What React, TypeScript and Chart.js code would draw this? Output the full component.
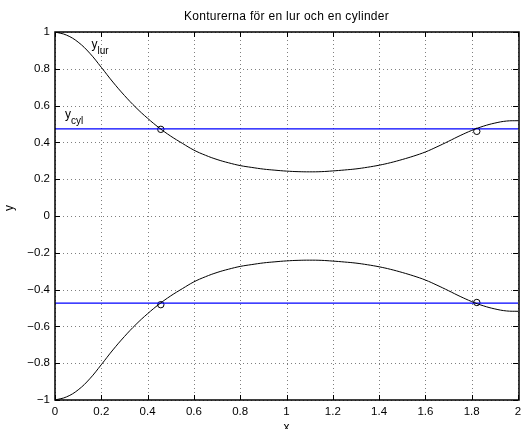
import React, { useEffect, useRef } from "react";
import { Chart, registerables } from "chart.js";

Chart.register(...registerables);

// ---- data ----
const xValues = [0, 0.05, 0.1, 0.15, 0.2, 0.25, 0.3, 0.35, 0.4, 0.45, 0.5, 0.55, 0.6, 0.65, 0.7, 0.75, 0.8, 0.85, 0.9, 0.95, 1.0, 1.05, 1.1, 1.15, 1.2, 1.25, 1.3, 1.35, 1.4, 1.45, 1.5, 1.55, 1.6, 1.65, 1.7, 1.75, 1.8, 1.85, 1.9, 1.95, 2.0];
const lurUpper = [1, 0.983, 0.945, 0.885, 0.808, 0.728, 0.655, 0.589, 0.531, 0.479, 0.434, 0.395, 0.358, 0.33, 0.307, 0.289, 0.274, 0.264, 0.255, 0.249, 0.244, 0.241, 0.24, 0.241, 0.245, 0.25, 0.256, 0.265, 0.276, 0.29, 0.307, 0.326, 0.348, 0.376, 0.406, 0.437, 0.465, 0.488, 0.505, 0.516, 0.518];
const lurLower = [-1, -0.983, -0.945, -0.885, -0.808, -0.728, -0.655, -0.589, -0.531, -0.479, -0.434, -0.395, -0.358, -0.33, -0.307, -0.289, -0.274, -0.264, -0.255, -0.249, -0.244, -0.241, -0.24, -0.241, -0.245, -0.25, -0.256, -0.265, -0.276, -0.29, -0.307, -0.326, -0.348, -0.376, -0.406, -0.437, -0.465, -0.488, -0.505, -0.516, -0.518];
const cylX = [0, 2];
const cylUpper = [0.473, 0.473];
const cylLower = [-0.473, -0.473];
const markerX = [0.457, 1.822, 0.457, 1.822];
const markerY = [0.471, 0.46, -0.482, -0.47];
const xTicks = [0, 0.2, 0.4, 0.6, 0.8, 1, 1.2, 1.4, 1.6, 1.8, 2];
const xTickLabels = ["0", "0.2", "0.4", "0.6", "0.8", "1", "1.2", "1.4", "1.6", "1.8", "2"];
const yTicks = [-1, -0.8, -0.6, -0.4, -0.2, 0, 0.2, 0.4, 0.6, 0.8, 1];
const yTickLabels = ["\u22121", "\u22120.8", "\u22120.6", "\u22120.4", "\u22120.2", "0", "0.2", "0.4", "0.6", "0.8", "1"];
const titleText = "Konturerna för en lur och en cylinder";
const xLabel = "x";
const yLabel = "y";

const FONT = '"Liberation Sans", Arial, Helvetica, sans-serif';

const matlabPlugin = {
  id: "matlabAxes",
  beforeDatasetsDraw(chart: any) {
    const { ctx, chartArea: a, scales } = chart;
    const xs = scales.x;
    const ys = scales.y;
    ctx.save();
    ctx.strokeStyle = "rgba(0,0,0,0.5)";
    ctx.lineWidth = 1;
    ctx.setLineDash([1, 3]);
    for (const v of xTicks) {
      const px = Math.round(xs.getPixelForValue(v)) + 0.5;
      ctx.beginPath();
      ctx.moveTo(px, a.top);
      ctx.lineTo(px, a.bottom);
      ctx.stroke();
    }
    for (const v of yTicks) {
      const py = Math.round(ys.getPixelForValue(v)) + 0.5;
      ctx.beginPath();
      ctx.moveTo(a.left, py);
      ctx.lineTo(a.right, py);
      ctx.stroke();
    }
    ctx.restore();
  },
  afterDraw(chart: any) {
    const { ctx, chartArea: a, scales } = chart;
    const xs = scales.x;
    const ys = scales.y;
    ctx.save();
    // frame (right edge falls just outside the canvas, as in the reference)
    ctx.setLineDash([]);
    ctx.strokeStyle = "#000";
    ctx.lineWidth = 1.5;
    ctx.beginPath();
    ctx.rect(a.left, a.top, a.right + 1 - a.left, a.bottom - a.top);
    ctx.stroke();
    // inward ticks
    ctx.lineWidth = 1;
    const tl = 5;
    for (const v of xTicks) {
      const px = Math.round(xs.getPixelForValue(v)) + 0.5;
      ctx.beginPath();
      ctx.moveTo(px, a.bottom);
      ctx.lineTo(px, a.bottom - tl);
      ctx.moveTo(px, a.top);
      ctx.lineTo(px, a.top + tl);
      ctx.stroke();
    }
    for (const v of yTicks) {
      const py = Math.round(ys.getPixelForValue(v)) + 0.5;
      ctx.beginPath();
      ctx.moveTo(a.left, py);
      ctx.lineTo(a.left + tl, py);
      ctx.moveTo(a.right, py);
      ctx.lineTo(a.right - tl, py);
      ctx.stroke();
    }
    // title
    ctx.fillStyle = "#000";
    ctx.font = `12px ${FONT}`;
    (ctx as any).letterSpacing = "0.3px";
    ctx.textAlign = "center";
    ctx.textBaseline = "alphabetic";
    const cx = (a.left + a.right) / 2;
    ctx.fillText(titleText, cx, 20);
    (ctx as any).letterSpacing = "0px";
    // x label
    ctx.font = `12px ${FONT}`;
    ctx.fillText(xLabel, cx, 431);
    // y label
    ctx.save();
    ctx.translate(13, 208);
    ctx.rotate(-Math.PI / 2);
    ctx.fillText(yLabel, 0, 0);
    ctx.restore();
    // text annotations with subscripts
    const drawSub = (main: string, sub: string, dx: number, dy: number) => {
      const px = xs.getPixelForValue(dx);
      const py = ys.getPixelForValue(dy);
      ctx.textAlign = "left";
      ctx.font = `12px ${FONT}`;
      ctx.fillText(main, px, py);
      const w = ctx.measureText(main).width;
      ctx.font = `10px ${FONT}`;
      ctx.fillText(sub, px + w, py + 5.5);
    };
    drawSub("y", "lur", 0.158, 0.912);
    drawSub("y", "cyl", 0.043, 0.53);
    ctx.restore();
  },
};

export default function App() {
  const ref = useRef<HTMLCanvasElement | null>(null);
  useEffect(() => {
    if (!ref.current) return;
    const pts = (xa: number[], ya: number[]) => xa.map((x, i) => ({ x, y: ya[i] }));
    const lineDs = (data: any[], color: string) => ({
      type: "line" as const,
      data,
      borderColor: color,
      borderWidth: 1,
      pointRadius: 0,
      fill: false,
      tension: 0.4,
    });
    const chart = new Chart(ref.current, {
      type: "line",
      data: {
        datasets: [
          lineDs(pts(xValues, lurUpper), "#000000"),
          lineDs(pts(xValues, lurLower), "#000000"),
          { ...lineDs(pts(cylX, cylUpper), "#0000ff"), tension: 0, borderWidth: 1.2 },
          { ...lineDs(pts(cylX, cylLower), "#0000ff"), tension: 0, borderWidth: 1.2 },
          {
            type: "scatter" as const,
            data: pts(markerX, markerY),
            showLine: false,
            pointStyle: "circle",
            pointRadius: 3.2,
            pointBorderWidth: 1,
            pointBorderColor: "#000",
            pointBackgroundColor: "rgba(0,0,0,0)",
            borderColor: "#000",
            backgroundColor: "rgba(0,0,0,0)",
          } as any,
        ],
      },
      options: {
        responsive: false,
        animation: false,
        events: [],
        layout: { padding: { top: 32, left: 0, right: 0, bottom: 0 } },
        plugins: {
          legend: { display: false },
          title: { display: false },
          tooltip: { enabled: false },
        },
        scales: {
          x: {
            type: "linear",
            min: 0,
            max: 2,
            grid: { display: false, drawTicks: false },
            border: { display: false },
            afterBuildTicks: (s: any) => {
              s.ticks = xTicks.map((v) => ({ value: v }));
            },
            afterFit: (s: any) => {
              s.height = 29;
              s.paddingLeft = 0;
              s.paddingRight = 0;
            },
            ticks: {
              padding: 5,
              maxRotation: 0,
              autoSkip: false,
              color: "#000",
              font: { family: FONT, size: 11.5 },
              callback: (_v: any, i: number) => xTickLabels[i],
            },
          },
          y: {
            type: "linear",
            min: -1,
            max: 1,
            grid: { display: false, drawTicks: false },
            border: { display: false },
            afterBuildTicks: (s: any) => {
              s.ticks = yTicks.map((v) => ({ value: v }));
            },
            afterFit: (s: any) => {
              s.width = 55;
              s.paddingTop = 0;
              s.paddingBottom = 0;
            },
            ticks: {
              padding: 5,
              autoSkip: false,
              color: "#000",
              font: { family: FONT, size: 11.5 },
              callback: (_v: any, i: number) => yTickLabels[i],
            },
          },
        },
      },
      plugins: [matlabPlugin],
    });
    return () => chart.destroy();
  }, []);
  return (
    <div style={{ position: "absolute", left: 0, top: 0, width: 523, height: 429, background: "#fff" }}>
      <canvas ref={ref} width={523} height={429} style={{ display: "block" }} />
    </div>
  );
}
